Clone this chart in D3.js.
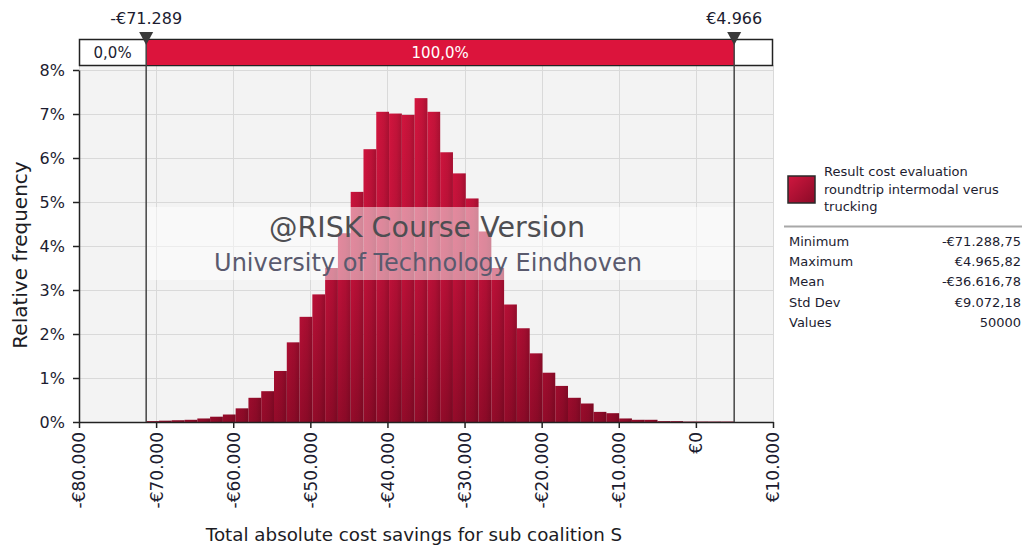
<!DOCTYPE html>
<html><head><meta charset="utf-8">
<script src="https://cdn.jsdelivr.net/npm/d3@7"></script>
<style>
html,body{margin:0;padding:0;background:#fff;}
svg{display:block;font-family:"DejaVu Sans",Verdana,sans-serif;}
</style></head><body>
<svg id="chart" width="1026" height="546"></svg>
<script>
// Simulated result: total absolute cost savings, 50 000 iterations in 46 equal bins
const binMin = -71288.75;
const binMax = 4965.82;
const binCount = 46;
// relative frequency per bin, in percent
const relFreq = [
  0.02, 0.03, 0.04, 0.05, 0.08, 0.12, 0.17, 0.31, 0.55, 0.70,
  1.16, 1.81, 2.39, 2.90, 3.50, 4.29, 5.23, 6.20, 7.05, 7.01,
  6.98, 7.36, 7.05, 6.13, 5.65, 5.08, 4.33, 3.50, 2.67, 2.13,
  1.56, 1.12, 0.82, 0.55, 0.42, 0.23, 0.20, 0.08, 0.05, 0.05,
  0.02, 0.02, 0.01, 0.01, 0.01, 0.01
];
const xTicks = [-80000, -70000, -60000, -50000, -40000, -30000, -20000, -10000, 0, 10000];
const yTicks = [0, 1, 2, 3, 4, 5, 6, 7, 8];
const delimiterLabels = ["-€71.289", "€4.966"];
const regionShares = ["0,0%", "100,0%"];
const legendLines = ["Result cost evaluation", "roundtrip intermodal verus", "trucking"];
const statLabels = ["Minimum", "Maximum", "Mean", "Std Dev", "Values"];
const statValues = ["-€71.288,75", "€4.965,82", "-€36.616,78", "€9.072,18", "50000"];

const svg = d3.select("#chart");
const plot = {left: 79, right: 773, top: 65, bottom: 422, yTop: 70};

const euro = d3.formatLocale({decimal: ",", thousands: ".", grouping: [3], currency: ["€", ""], minus: "-"});
const fmtEuro = euro.format("$,.0f");

const x = d3.scaleLinear().domain([-80000, 10000]).range([plot.left, plot.right]);
const y = d3.scaleLinear().domain([0, 8]).range([plot.bottom, plot.yTop]);

const step = (binMax - binMin) / binCount;
const bins = relFreq.map((v, i) => ({x0: binMin + i * step, x1: binMin + (i + 1) * step, v}));

// gradients
const defs = svg.append("defs");
const gv = defs.append("linearGradient").attr("id", "barV")
  .attr("gradientUnits", "userSpaceOnUse").attr("x1", 0).attr("x2", 0)
  .attr("y1", plot.yTop).attr("y2", plot.bottom);
gv.append("stop").attr("offset", 0).attr("stop-color", "#d6163f");
gv.append("stop").attr("offset", 0.55).attr("stop-color", "#c3113a");
gv.append("stop").attr("offset", 1).attr("stop-color", "#950b2a");
const gh = defs.append("linearGradient").attr("id", "barH")
  .attr("x1", 0).attr("x2", 1).attr("y1", 0).attr("y2", 0);
gh.append("stop").attr("offset", 0).attr("stop-color", "#000").attr("stop-opacity", 0);
gh.append("stop").attr("offset", 0.6).attr("stop-color", "#000").attr("stop-opacity", 0.08);
gh.append("stop").attr("offset", 1).attr("stop-color", "#000").attr("stop-opacity", 0.2);
const gl = defs.append("linearGradient").attr("id", "legendFill")
  .attr("x1", 0).attr("x2", 1).attr("y1", 0).attr("y2", 1);
gl.append("stop").attr("offset", 0).attr("stop-color", "#d0173f");
gl.append("stop").attr("offset", 1).attr("stop-color", "#8a0a27");

// plot background
svg.append("rect").attr("x", plot.left).attr("y", plot.top)
  .attr("width", plot.right - plot.left).attr("height", plot.bottom - plot.top)
  .attr("fill", "#f3f3f3");

// grid
const grid = svg.append("g").attr("stroke", "#d9d9d9").attr("stroke-width", 1);
grid.selectAll("line.v").data(xTicks).join("line")
  .attr("x1", d => Math.round(x(d)) + 0.5).attr("x2", d => Math.round(x(d)) + 0.5)
  .attr("y1", plot.top).attr("y2", plot.bottom);
grid.selectAll("line.h").data(yTicks).join("line")
  .attr("x1", plot.left).attr("x2", plot.right)
  .attr("y1", d => Math.round(y(d)) + 0.5).attr("y2", d => Math.round(y(d)) + 0.5);

// bars
const barG = svg.append("g");
barG.selectAll("rect.b").data(bins).join("rect").attr("class", "b")
  .attr("x", d => x(d.x0)).attr("width", d => x(d.x1) - x(d.x0))
  .attr("y", d => y(d.v)).attr("height", d => y(0) - y(d.v))
  .attr("fill", "url(#barV)");
barG.selectAll("rect.s").data(bins).join("rect").attr("class", "s")
  .attr("x", d => x(d.x0)).attr("width", d => x(d.x1) - x(d.x0))
  .attr("y", d => y(d.v)).attr("height", d => y(0) - y(d.v))
  .attr("fill", "url(#barH)");

// watermark band between the delimiters
svg.append("rect").attr("x", x(binMin)).attr("y", 207)
  .attr("width", x(binMax) - x(binMin)).attr("height", 73)
  .attr("fill", "#fff").attr("opacity", 0.5);
svg.append("text").attr("x", 427).attr("y", 237).attr("text-anchor", "middle")
  .attr("font-size", 28.5).attr("fill", "#4e4e52").text("@RISK Course Version");
svg.append("text").attr("x", 428).attr("y", 271).attr("text-anchor", "middle")
  .attr("font-size", 24).attr("fill", "#5a5a6e").text("University of Technology Eindhoven");

// axes
const xAxis = svg.append("g").attr("transform", `translate(0,${plot.bottom})`)
  .call(d3.axisBottom(x).tickValues(xTicks).tickSize(6).tickSizeOuter(0).tickFormat(fmtEuro));
const yAxis = svg.append("g").attr("transform", `translate(${plot.left},0)`)
  .call(d3.axisLeft(y).tickValues(yTicks).tickSize(6).tickPadding(8).tickSizeOuter(0).tickFormat(d => d + "%"));
[xAxis, yAxis].forEach(a => {
  a.select(".domain").attr("stroke", "#222").attr("stroke-width", 1.5);
  a.selectAll(".tick line").attr("stroke", "#222").attr("stroke-width", 1.5);
  a.selectAll("text").attr("font-size", 16).attr("fill", "#1c1c30").attr("font-family", "DejaVu Sans, Verdana, sans-serif");
});
xAxis.selectAll("text").attr("transform", "rotate(-90)").attr("text-anchor", "end")
  .attr("x", -10).attr("y", 0).attr("dy", "0.35em").attr("font-size", 17);

// axis titles
svg.append("text").attr("x", 414).attr("y", 541).attr("text-anchor", "middle")
  .attr("font-size", 18.3).attr("fill", "#1c1c24").text("Total absolute cost savings for sub coalition S");
svg.append("text").attr("transform", "translate(27,255) rotate(-90)").attr("text-anchor", "middle")
  .attr("font-size", 20).attr("fill", "#1c1c24").text("Relative frequency");

// delimiter bar
const barTop = 39, barH = 26;
svg.append("rect").attr("x", plot.left + 0.5).attr("y", barTop + 0.5)
  .attr("width", plot.right - plot.left - 1).attr("height", barH)
  .attr("fill", "#fff").attr("stroke", "#222").attr("stroke-width", 1.5);
svg.append("rect").attr("x", x(binMin)).attr("y", barTop + 1)
  .attr("width", x(binMax) - x(binMin)).attr("height", barH - 1)
  .attr("fill", "#dc143c");
svg.append("text").attr("x", (plot.left + x(binMin)) / 2).attr("y", barTop + 19)
  .attr("text-anchor", "middle").attr("font-size", 15).attr("fill", "#1c1c30").text(regionShares[0]);
svg.append("text").attr("x", (x(binMin) + x(binMax)) / 2).attr("y", barTop + 19)
  .attr("text-anchor", "middle").attr("font-size", 15).attr("fill", "#fff").text(regionShares[1]);

// delimiter lines, markers and labels
const delims = [binMin, binMax];
svg.selectAll("line.delim").data(delims).join("line")
  .attr("x1", d => x(d)).attr("x2", d => x(d))
  .attr("y1", barTop).attr("y2", plot.bottom)
  .attr("stroke", "#444").attr("stroke-width", 1.5);
svg.selectAll("path.marker").data(delims).join("path")
  .attr("d", d => `M${x(d) - 7},32 L${x(d) + 7},32 L${x(d)},45 Z`)
  .attr("fill", "#3a3a3a");
svg.selectAll("text.delim").data(delims).join("text")
  .attr("x", d => x(d)).attr("y", 24).attr("text-anchor", "middle")
  .attr("font-size", 16).attr("fill", "#1c1c30")
  .text((d, i) => delimiterLabels[i]);

// legend
const lg = svg.append("g");
lg.append("rect").attr("x", 788).attr("y", 176).attr("width", 27).attr("height", 27)
  .attr("fill", "url(#legendFill)").attr("stroke", "#2a2a2a").attr("stroke-width", 1.5);
lg.selectAll("text.ll").data(legendLines).join("text")
  .attr("x", 824).attr("y", (d, i) => 176 + i * 17.5)
  .attr("font-size", 13).attr("fill", "#1c1c30").text(d => d);
lg.append("line").attr("x1", 784).attr("x2", 1022).attr("y1", 226.5).attr("y2", 226.5)
  .attr("stroke", "#a8a8a8").attr("stroke-width", 2);
lg.selectAll("text.sl").data(statLabels).join("text")
  .attr("x", 789).attr("y", (d, i) => 246 + i * 20.2)
  .attr("font-size", 13).attr("fill", "#1c1c30").text(d => d);
lg.selectAll("text.sv").data(statValues).join("text")
  .attr("x", 1021).attr("y", (d, i) => 246 + i * 20.2).attr("text-anchor", "end")
  .attr("font-size", 13).attr("fill", "#1c1c30").text(d => d);
</script>
</body></html>
